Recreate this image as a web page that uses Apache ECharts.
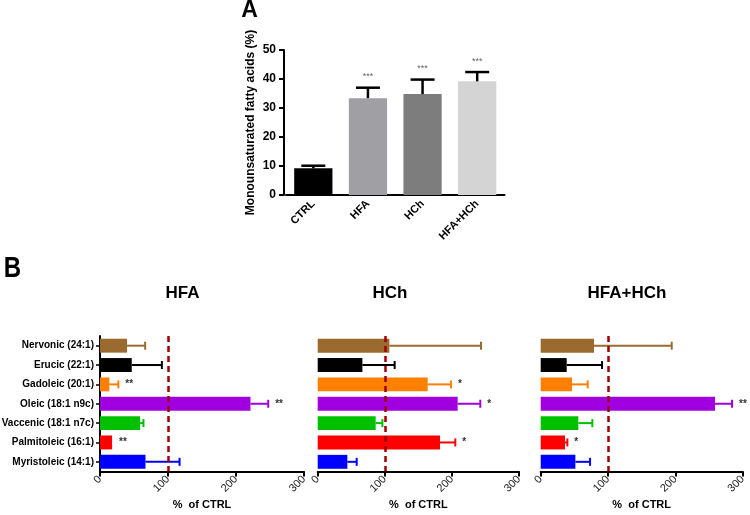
<!DOCTYPE html>
<html>
<head>
<meta charset="utf-8">
<script src="https://cdn.jsdelivr.net/npm/echarts@6/dist/echarts.min.js"></script>
<style>html,body{margin:0;padding:0;background:#fff;}#chart{width:750px;height:515px;}</style>
</head>
<body>
<div id="chart"></div>
<script>
// ---------- Panel A data ----------
const panelACategories = ['CTRL', 'HFA', 'HCh', 'HFA+HCh'];
const panelAMeans = [9.2, 33.4, 34.8, 39.2];
const panelAUpper = [10.1, 37.0, 39.8, 42.4];
const panelAStars = ['', '***', '***', '***'];
const panelATicks = [0, 10, 20, 30, 40, 50];

// ---------- Panel B data ----------
const fattyAcids = ['Nervonic (24:1)', 'Erucic (22:1)', 'Gadoleic (20:1)', 'Oleic (18:1 n9c)',
  'Vaccenic (18:1 n7c)', 'Palmitoleic (16:1)', 'Myristoleic (14:1)'];
const panelBTitles = ['HFA', 'HCh', 'HFA+HCh'];
const hfaMeans = [39.8, 46.7, 13.8, 221.3, 59.0, 17.8, 66.9];
const hfaUpper = [66.4, 91.0, 27.0, 247.4, 63.9, 17.8, 117.0];
const hfaStars = ['', '', '**', '**', '', '**', ''];
const hchMeans = [106.8, 66.6, 163.9, 208.6, 86.4, 182.3, 44.2];
const hchUpper = [243.4, 114.7, 198.6, 242.3, 96.4, 205.1, 58.1];
const hchStars = ['', '', '*', '*', '', '*', ''];
const comboMeans = [79.2, 38.6, 46.5, 258.9, 55.9, 36.1, 51.5];
const comboUpper = [194.6, 91.1, 69.8, 284.2, 76.7, 39.6, 73.3];
const comboStars = ['', '', '', '**', '', '*', ''];
const pctTicks = [0, 100, 200, 300];
const referenceLine = 100;

// ---------- styles ----------
const panelAColors = ['#000000', '#a0a0a4', '#7d7d7d', '#d4d4d4'];
const acidColors = ['#9a6a2e', '#000000', '#ff8000', '#a000e0', '#00c000', '#ff0000', '#0000ff'];
const SANS = '"Liberation Sans", Arial, sans-serif';

const chart = echarts.init(document.getElementById('chart'), null, {renderer: 'canvas'});

const bGrids = [
  {left: 100, right: 446, top: 336, bottom: 43.5, outerBoundsMode: 'none', containLabel: false},
  {left: 317.7, right: 231, top: 336, bottom: 43.5, outerBoundsMode: 'none', containLabel: false},
  {left: 540.7, right: 7.3, top: 336, bottom: 43.5, outerBoundsMode: 'none', containLabel: false}
];
const bMeans = [hfaMeans, hchMeans, comboMeans];
const bUpper = [hfaUpper, hchUpper, comboUpper];
const bStars = [hfaStars, hchStars, comboStars];

const grids = [{left: 286, right: 245.5, top: 50, bottom: 320, outerBoundsMode: 'none', containLabel: false}].concat(bGrids);

const xAxes = [{
  type: 'category', gridIndex: 0, data: panelACategories,
  axisLine: {lineStyle: {color: '#000', width: 2}},
  axisTick: {alignWithLabel: true, length: 5, lineStyle: {color: '#000', width: 2}},
  axisLabel: {rotate: 45, margin: 7, color: '#000', fontFamily: SANS, fontWeight: 'bold', fontSize: 11}
}];
const yAxes = [{
  type: 'value', gridIndex: 0, min: panelATicks[0], max: panelATicks[panelATicks.length - 1],
  interval: panelATicks[1] - panelATicks[0], offset: 2,
  name: 'Monounsaturated fatty acids (%)', nameLocation: 'middle', nameGap: 27,
  nameTextStyle: {color: '#000', fontFamily: SANS, fontWeight: 'bold', fontSize: 12},
  axisLine: {show: true, lineStyle: {color: '#000', width: 2}},
  axisTick: {show: true, length: 5, lineStyle: {color: '#000', width: 2}},
  splitLine: {show: false},
  axisLabel: {color: '#000', fontFamily: SANS, fontWeight: 'bold', fontSize: 12, margin: 8}
}];

for (let g = 0; g < 3; g++) {
  xAxes.push({
    type: 'value', gridIndex: g + 1, min: pctTicks[0], max: pctTicks[pctTicks.length - 1],
    interval: pctTicks[1] - pctTicks[0],
    name: '%  of CTRL', nameLocation: 'middle', nameGap: 28,
    nameTextStyle: {color: '#000', fontFamily: SANS, fontWeight: 'bold', fontSize: 11},
    axisLine: {show: true, lineStyle: {color: '#000', width: 2}},
    axisTick: {show: true, length: 5, lineStyle: {color: '#000', width: 2}},
    splitLine: {show: false},
    axisLabel: {rotate: 45, margin: 6, color: '#222', fontFamily: SANS, fontSize: 11}
  });
  yAxes.push({
    type: 'category', gridIndex: g + 1, data: fattyAcids, inverse: true,
    axisLine: {show: g === 0, lineStyle: {color: '#000', width: 2}},
    axisTick: {show: g === 0, alignWithLabel: true, length: 4, lineStyle: {color: '#000', width: 1.5}},
    axisLabel: {show: g === 0, margin: 6, color: '#000', fontFamily: SANS, fontWeight: 'bold', fontSize: 10}
  });
}

const series = [];

// Panel A bars
series.push({
  type: 'bar', xAxisIndex: 0, yAxisIndex: 0, barWidth: '70%',
  data: panelAMeans.map((v, i) => ({value: v, itemStyle: {color: panelAColors[i]}})),
  silent: true
});
// Panel A error bars + stars
series.push({
  type: 'custom', xAxisIndex: 0, yAxisIndex: 0, z: 3, silent: true,
  data: panelAMeans.map((v, i) => [i, v, panelAUpper[i]]),
  encode: {x: 0, y: [1, 2]},
  renderItem: function (params, api) {
    const i = api.value(0);
    const p0 = api.coord([i, api.value(1)]);
    const p1 = api.coord([i, api.value(2)]);
    const st = {stroke: '#000', lineWidth: 2.5};
    const children = [
      {type: 'line', shape: {x1: p0[0], y1: p0[1], x2: p1[0], y2: p1[1]}, style: st},
      {type: 'line', shape: {x1: p1[0] - 12, y1: p1[1], x2: p1[0] + 12, y2: p1[1]}, style: st}
    ];
    const s = panelAStars[params.dataIndex];
    if (s) children.push({type: 'text', x: p1[0], y: p1[1] - 11,
      style: {text: s, fill: '#666', font: '9px ' + SANS, align: 'center', verticalAlign: 'middle'}});
    return {type: 'group', children: children};
  }
});

// Panel B
for (let g = 0; g < 3; g++) {
  const means = bMeans[g], upper = bUpper[g], stars = bStars[g];
  series.push({
    type: 'bar', xAxisIndex: g + 1, yAxisIndex: g + 1, barWidth: '72%', silent: true,
    data: means.map((v, i) => ({value: v, itemStyle: {color: acidColors[i]}})),
    markLine: {
      symbol: 'none', silent: true, z: 6, label: {show: false},
      lineStyle: {color: '#a00000', type: [6, 4], width: 2.5},
      data: [{xAxis: referenceLine}]
    }
  });
  series.push({
    type: 'custom', xAxisIndex: g + 1, yAxisIndex: g + 1, z: 3, silent: true,
    data: means.map((v, i) => [v, upper[i], i]),
    encode: {x: [0, 1], y: 2},
    renderItem: function (params, api) {
      const i = api.value(2);
      const p0 = api.coord([api.value(0), i]);
      const p1 = api.coord([api.value(1), i]);
      const col = acidColors[params.dataIndex];
      const st = {stroke: col, lineWidth: 2};
      const children = [];
      if (p1[0] - p0[0] > 0.5) {
        children.push({type: 'line', shape: {x1: p0[0], y1: p0[1], x2: p1[0], y2: p1[1]}, style: st});
        children.push({type: 'line', shape: {x1: p1[0], y1: p1[1] - 4, x2: p1[0], y2: p1[1] + 4}, style: st});
      }
      const s = stars[params.dataIndex];
      if (s) children.push({type: 'text', x: p1[0] + 7, y: p1[1],
        style: {text: s, fill: '#333', font: 'bold 10px ' + SANS, align: 'left', verticalAlign: 'middle'}});
      return {type: 'group', children: children};
    }
  });
}

const titleX = [182.5, 390, 627];
const graphic = [
  {type: 'text', x: 249.5, y: 11, style: {text: 'A', fill: '#000', font: 'bold 23px ' + SANS, align: 'center', verticalAlign: 'middle'}},
  {type: 'text', x: 12.5, y: 268.5, scaleX: 0.8, style: {text: 'B', fill: '#000', font: 'bold 30px ' + SANS, align: 'center', verticalAlign: 'middle'}}
].concat(panelBTitles.map((t, i) => ({
  type: 'text', x: titleX[i], y: 293.5,
  style: {text: t, fill: '#000', font: 'bold 17px ' + SANS, align: 'center', verticalAlign: 'middle'}
})));

chart.setOption({
  backgroundColor: '#fff',
  animation: false,
  grid: grids,
  xAxis: xAxes,
  yAxis: yAxes,
  series: series,
  graphic: graphic
});
</script>
</body>
</html>
